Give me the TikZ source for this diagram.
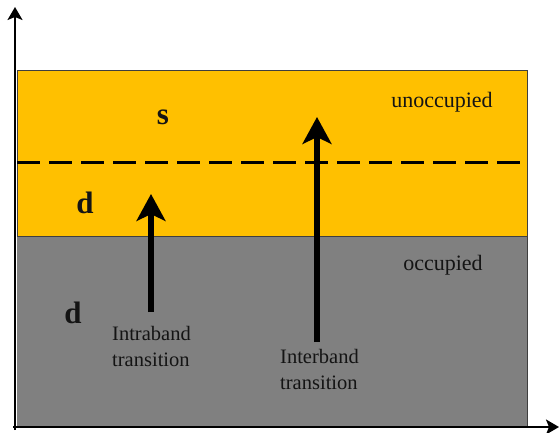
\documentclass[tikz,border=0pt]{standalone}
\usepackage{fontspec}
\setmainfont{Liberation Serif}
\usetikzlibrary{arrows.meta}
\definecolor{bandorange}{HTML}{FFC000}
\definecolor{bandgray}{HTML}{808080}
\definecolor{edgegray}{HTML}{3F3F3F}
\definecolor{textdark}{HTML}{141414}
\tikzset{
  band/.style={draw=edgegray, line width=1pt},
  axisline/.style={line width=2pt, -{Stealth[length=13pt,width=15pt,inset=3pt]}},
  transarrow/.style={line width=6pt, -{Stealth[length=27pt,width=29pt,inset=7pt]}},
  letter/.style={font=\fontsize{31}{34}\selectfont\bfseries, text=textdark, inner sep=0pt},
  statelabel/.style={font=\fontsize{22}{25}\selectfont, text=textdark, inner sep=0pt},
  translabel/.style={font=\fontsize{20.5}{26}\selectfont, text=textdark, align=left, inner sep=0pt, anchor=west},
  fermi/.style={line width=3pt, dash pattern=on 23pt off 9pt}
}
\begin{document}
\begin{tikzpicture}[x=1pt,y=-1pt]
\useasboundingbox (0,0) rectangle (560,433);
% bands
\fill[bandgray] (17,236) rectangle (527,427);
\draw[band, fill=bandorange] (17,71) rectangle (527,236);
\draw[band] (527,236) -- (527,427);
% dashed line
\coordinate (dl) at (17,163);
\coordinate (dr) at (527,163);
\draw[fermi] (dl) -- (dr);
% axes
\coordinate (ybot) at (15,430);
\coordinate (ytop) at (15,7);
\coordinate (xleft) at (13,427);
\coordinate (xright) at (559,427);
\draw[axisline] (ybot) -- (ytop);
\draw[axisline] (xleft) -- (xright);
% letters
\node[letter] (s) at (163,117) {s};
\node[letter] (d1) at (85,203) {d};
\node[letter] (d2) at (73,313) {d};
\node[statelabel] (unocc) at (442,102) {unoccupied};
\node[statelabel] (occ) at (443,265) {occupied};
% transitions
\coordinate (a1s) at (151,312);
\coordinate (a1e) at (151,194);
\coordinate (a2s) at (317,342);
\coordinate (a2e) at (317,117);
\draw[transarrow] (a1s) -- (a1e);
\draw[transarrow] (a2s) -- (a2e);
\node[translabel] (intra) at (112,346) {Intraband\\transition};
\node[translabel] (inter) at (280,369) {Interband\\transition};
\end{tikzpicture}
\end{document}
